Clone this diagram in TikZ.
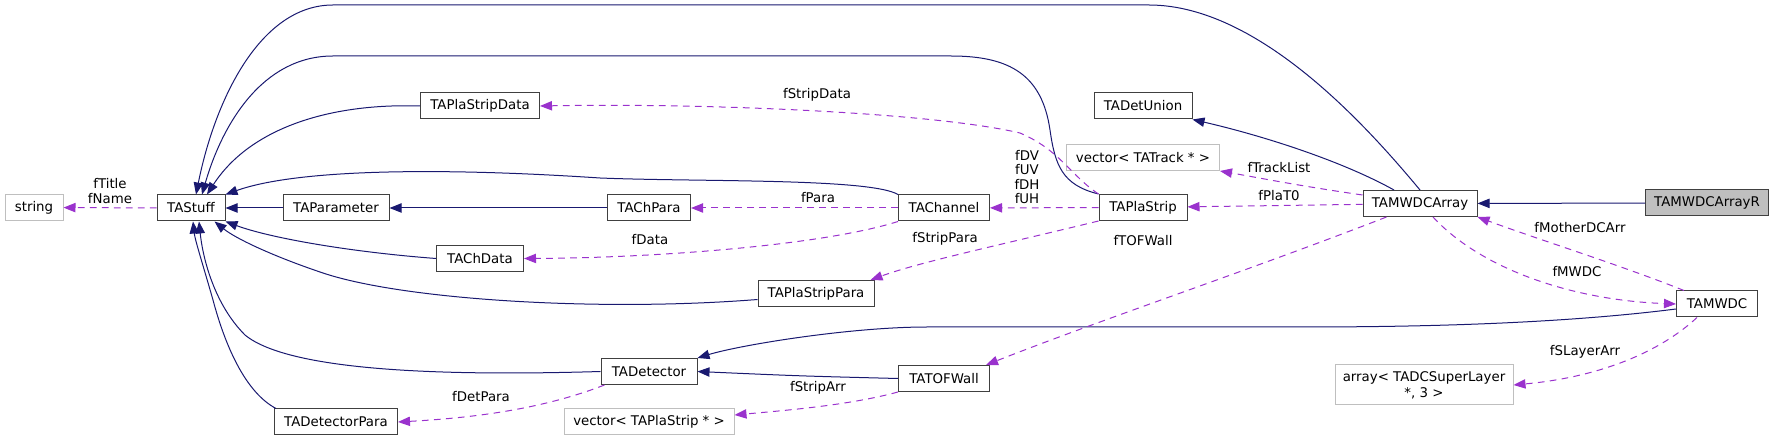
\documentclass[tikz,border=0pt]{standalone}
\usepackage{fontspec}
\setmainfont{DejaVu Sans}
\usetikzlibrary{arrows.meta, calc}

\definecolor{edgeblue}{HTML}{191970}
\definecolor{edgepurple}{HTML}{9A32CD}
\definecolor{boxline}{HTML}{404040}
\definecolor{extline}{HTML}{BFBFBF}
\definecolor{selfill}{HTML}{BFBFBF}

\begin{document}
\begin{tikzpicture}[
    x=0.75pt, y=-0.75pt,
    box/.style={draw=boxline, line width=0.75pt, rectangle, minimum height=19.5pt, inner sep=2pt, align=center, font=\fontsize{10}{12}\selectfont},
    extbox/.style={box, draw=extline},
    inh/.style={edgeblue, line width=0.75pt, -{Triangle[length=9pt, width=7pt]}},
    usage/.style={edgepurple, line width=0.75pt, dash pattern=on 5pt off 4pt, -{Triangle[length=9pt, width=7pt]}},
    lbl/.style={inner sep=0pt, align=center, font=\fontsize{10}{11}\selectfont}
]
    \useasboundingbox (0,0) rectangle (1785,441);

    % Classes
    \node[extbox, minimum width=43.5pt] (string) at (34,207.5) {string};
    \node[box, minimum width=51pt] (TAStuff) at (191,208) {TAStuff};
    \node[box, minimum width=79.5pt] (TAParameter) at (336,208) {TAParameter};
    \node[box, minimum width=62.25pt] (TAChPara) at (649,208) {TAChPara};
    \node[box, minimum width=68.25pt] (TAChannel) at (944,208) {TAChannel};
    \node[box, minimum width=66pt] (TAPlaStrip) at (1143,207.5) {TAPlaStrip};
    \node[box, minimum width=85.5pt] (TAMWDCArray) at (1420,203.5) {TAMWDCArray};
    \node[box, fill=selfill, minimum width=92.25pt] (TAMWDCArrayR) at (1707,203) {TAMWDCArrayR};

    \node[box, minimum width=89.25pt] (TAPlaStripData) at (480,106) {TAPlaStripData};
    \node[box, minimum width=73.5pt] (TADetUnion) at (1143,106) {TADetUnion};
    \node[extbox, minimum width=114.75pt] (vectorTrack) at (1143,157.5) {vector< TATrack * >};

    \node[box, minimum width=65.25pt] (TAChData) at (480,258.5) {TAChData};
    \node[box, minimum width=87pt] (TAPlaStripPara) at (816,293.5) {TAPlaStripPara};
    \node[box, minimum width=72pt] (TADetector) at (649,371.5) {TADetector};
    \node[box, minimum width=68.25pt] (TATOFWall) at (944,378.5) {TATOFWall};
    \node[box, minimum width=60.75pt] (TAMWDC) at (1717,304) {TAMWDC};
    \node[box, minimum width=92.25pt] (TADetectorPara) at (336,422) {TADetectorPara};
    \node[extbox, minimum width=127.5pt] (vectorStrip) at (649,422) {vector< TAPlaStrip * >};
    \node[extbox, minimum width=133.5pt, minimum height=30pt] (arrayLayer) at (1424,385) {array< TADCSuperLayer\\*, 3 >};

    % Inheritance
    \draw[inh] (TAMWDCArray.north) .. controls (1370,130) and (1260,5) .. (1149,5) -- (333,5)
        .. controls (260,5) and (215,100) .. ($(TAStuff.north)+(5,0)$);
    \draw[inh] (TAPlaStrip.north west) .. controls (1062,185) and (1055,165) .. (1050,130)
        .. controls (1042,75) and (1010,56) .. (951,56) -- (333,56)
        .. controls (262,56) and (222,125) .. ($(TAStuff.north)+(11,0)$);
    \draw[inh] (TAPlaStripData.west) .. controls (330,103) and (250,128) .. ($(TAStuff.north)+(16,0)$);
    \draw[inh] (TAChannel.north west) .. controls (870,178) and (700,182) .. (600,178)
        .. controls (450,168) and (300,168) .. (TAStuff.north east);
    \draw[inh] (TAParameter) -- (TAStuff);
    \draw[inh] (TAChPara) -- (TAParameter);
    \draw[inh] (TAChData.west) .. controls (350,252) and (270,238) .. (TAStuff.south east);
    \draw[inh] ($(TAPlaStripPara.west)+(0,6)$) .. controls (600,312) and (400,300) .. (320,272)
        .. controls (270,255) and (235,238) .. ($(TAStuff.south east)+(-11,0)$);
    \draw[inh] (TADetector.west) .. controls (450,376) and (290,372) .. (245,335)
        .. controls (215,305) and (203,260) .. ($(TAStuff.south)+(8,0)$);
    \draw[inh] ($(TADetectorPara.north west)+(2,0)$) .. controls (245,392) and (225,345) .. (213,300)
        .. controls (203,265) and (195,240) .. ($(TAStuff.south)+(2,0)$);
    \draw[inh] (TATOFWall.west) .. controls (800,376) .. (TADetector.east);
    \draw[inh] ($(TAMWDC.west)+(0,5)$) .. controls (1550,325) and (1400,327) .. (1300,327) -- (927,327)
        .. controls (850,327) and (740,345) .. (TADetector.north east);
    \draw[inh] ($(TAMWDCArray.north)+(-26,0)$) .. controls (1340,160) and (1260,135) .. (TADetUnion.south east);
    \draw[inh] (TAMWDCArrayR) -- (TAMWDCArray);

    % Members
    \draw[usage] (TAStuff) -- (string);
    \node[lbl] (lTitle) at (110,191) {fTitle\\fName};
    \draw[usage] (TAPlaStrip.north west) .. controls (1070,175) and (1060,150) .. (1020,133)
        .. controls (930,112) and (700,103) .. (TAPlaStripData.east);
    \node[lbl] (lStripData) at (817,95) {fStripData};
    \draw[usage] (TAChannel) -- (TAChPara);
    \node[lbl] (lPara) at (818,198) {fPara};
    \draw[usage] (TAChannel.south west) .. controls (820,246) and (650,258) .. (TAChData.east);
    \node[lbl] (lData) at (650,240) {fData};
    \draw[usage] (TAPlaStrip) -- (TAChannel);
    \node[lbl, font=\fontsize{10}{10.9}\selectfont] (lDV) at (1027,177) {fDV\\fUV\\fDH\\fUH};
    \draw[usage] (TAPlaStrip.south west) .. controls (1000,245) and (920,262) .. ($(TAPlaStripPara.north east)+(-4,0)$);
    \node[lbl] (lStripPara) at (945,239) {fStripPara};
    \draw[usage] ($(TAMWDCArray.north west)+(0,5)$) .. controls (1300,186) and (1260,178) .. (vectorTrack.south east);
    \node[lbl] (lTrackList) at (1279,168) {fTrackList};
    \draw[usage] (TAMWDCArray) -- (TAPlaStrip);
    \node[lbl] (lPlaT0) at (1279,196) {fPlaT0};
    \draw[usage] ($(TAMWDCArray.south west)+(24,0)$) .. controls (1250,270) and (1100,320) .. ($(TATOFWall.north east)+(-4,0)$);
    \node[lbl] (lTOFWall) at (1143,241) {fTOFWall};
    \draw[usage] ($(TAMWDCArray.south)+(13,0)$) .. controls (1480,268) and (1570,300) .. (TAMWDC.west);
    \node[lbl] (lMWDC) at (1577,272) {fMWDC};
    \draw[usage] ($(TAMWDC.north west)+(8,0)$) .. controls (1620,265) and (1540,240) .. (TAMWDCArray.south east);
    \node[lbl] (lMother) at (1580,228) {fMotherDCArr};
    \draw[usage] ($(TAMWDC.south)+(-20,0)$) .. controls (1660,352) and (1600,377) .. (arrayLayer.east);
    \node[lbl] (lSLayer) at (1585,352) {fSLayerArr};
    \draw[usage] ($(TADetector.south west)+(4,0)$) .. controls (540,410) and (470,418) .. (TADetectorPara.east);
    \node[lbl] (lDetPara) at (481,397) {fDetPara};
    \draw[usage] (TATOFWall.south west) .. controls (850,405) and (790,410) .. ($(vectorStrip.east)+(0,-7)$);
    \node[lbl] (lStripArr) at (818,388) {fStripArr};
\end{tikzpicture}
\end{document}
